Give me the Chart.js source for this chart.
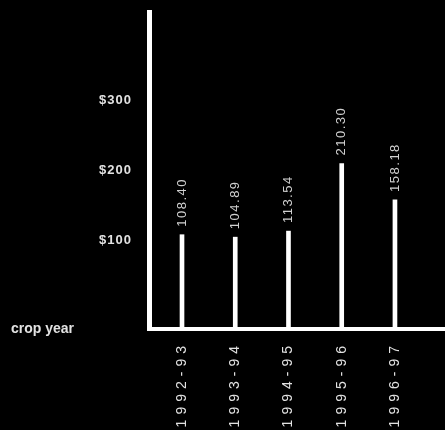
<!DOCTYPE html>
<html>
<head>
<meta charset="utf-8">
<script src="https://cdn.jsdelivr.net/npm/chart.js@4/dist/chart.umd.min.js"></script>
<style>
  html, body { margin: 0; padding: 0; background: #000; }
  #wrap { width: 445px; height: 430px; }
</style>
</head>
<body>
<div id="wrap"><canvas id="cropChart"></canvas></div>
<script>
const categories = ['1992-93', '1993-94', '1994-95', '1995-96', '1996-97'];
const prices = [108.40, 104.89, 113.54, 210.30, 158.18];
const yTicks = [100, 200, 300];
const axisTitle = 'crop year';

const yMin = -26.5;
const yMax = 427;
const textColor = '#e2e2e2';

// black page behind everything, plus letter spacing for the axis text
const background = {
    id: 'background',
    beforeDraw(chart) {
        const ctx = chart.ctx;
        ctx.save();
        ctx.fillStyle = '#000';
        ctx.fillRect(0, 0, chart.width, chart.height);
        ctx.restore();
        ctx.letterSpacing = '5px';   // x tick labels are drawn next
    },
    beforeDatasetsDraw(chart) {
        chart.ctx.letterSpacing = '1px';   // y tick labels (z: 1) come after datasets
    },
    afterDraw(chart) {
        chart.ctx.letterSpacing = '0px';
    }
};

const valueLabels = {
    id: 'valueLabels',
    afterDatasetsDraw(chart) {
        const ctx = chart.ctx;
        const meta = chart.getDatasetMeta(0);
        ctx.save();
        ctx.fillStyle = '#d0d0d0';
        ctx.font = '13px "Liberation Sans"';
        ctx.letterSpacing = '1.5px';
        ctx.textAlign = 'left';
        ctx.textBaseline = 'middle';
        meta.data.forEach((bar, i) => {
            ctx.save();
            ctx.translate(bar.x, bar.y - 8);
            ctx.rotate(-Math.PI / 2);
            ctx.fillText(prices[i].toFixed(2), 0, 0);
            ctx.restore();
        });
        ctx.restore();

        // axis caption, level with the x axis
        ctx.save();
        ctx.fillStyle = textColor;
        ctx.font = 'bold 14px "Liberation Sans"';
        ctx.letterSpacing = '0px';
        ctx.textAlign = 'left';
        ctx.textBaseline = 'alphabetic';
        ctx.fillText(axisTitle, 11, chart.chartArea.bottom + 4);
        ctx.restore();
    }
};

const ctx = document.getElementById('cropChart');

ctx.chartInstance = new Chart(ctx, {
    type: 'bar',
    data: {
        datasets: [{
            data: prices.map((v, i) => ({ x: i, y: v })),
            backgroundColor: '#fff',
            borderWidth: 0,
            barThickness: 4,
            base: yMin
        }]
    },
    options: {
        responsive: true,
        maintainAspectRatio: false,
        animation: false,
        layout: {
            padding: { top: 12, left: 0, right: 0, bottom: 0 }
        },
        plugins: {
            legend: { display: false },
            tooltip: { enabled: false }
        },
        scales: {
            x: {
                type: 'linear',
                offset: false,
                min: -0.62,
                max: 4.94,
                grid: { display: false, drawTicks: false },
                border: { color: '#fff', width: 4 },
                afterBuildTicks: s => { s.ticks = categories.map((c, i) => ({ value: i })); },
                afterFit: s => {
                    s.height = 101;
                    s.paddingLeft = 0;
                    s.paddingRight = 0;
                },
                ticks: {
                    color: textColor,
                    font: { family: '"Liberation Sans"', size: 14 },
                    minRotation: 90,
                    maxRotation: 90,
                    autoSkip: false,
                    padding: 12,
                    callback: v => categories[v]
                }
            },
            y: {
                min: yMin,
                max: yMax,
                grid: { display: false, drawTicks: false },
                border: { color: '#fff', width: 5 },
                afterBuildTicks: s => { s.ticks = yTicks.map(v => ({ value: v })); },
                afterFit: s => {
                    s.width = 149;
                    s.paddingTop = 0;
                    s.paddingBottom = 0;
                },
                ticks: {
                    z: 1,
                    color: textColor,
                    font: { family: '"Liberation Sans"', size: 13, weight: 'bold' },
                    padding: 17,
                    callback: v => '$' + v
                }
            }
        }
    },
    plugins: [background, valueLabels]
});
</script>
</body>
</html>
